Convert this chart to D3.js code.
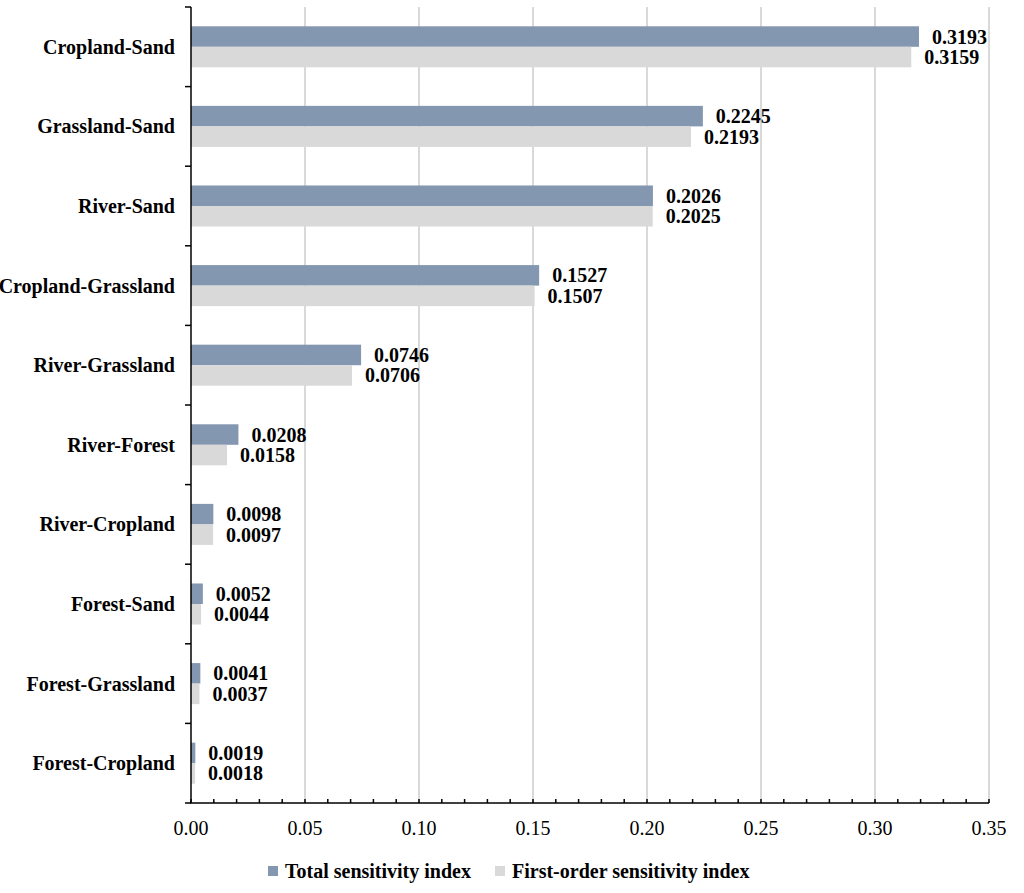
<!DOCTYPE html>
<html>
<head>
<meta charset="utf-8">
<script src="https://cdn.jsdelivr.net/npm/d3@7"></script>
<style>
  body { margin: 0; background: #fff; }
  text { font-family: 'Liberation Serif', 'Times New Roman', serif; font-weight: bold; fill: #000; }
</style>
</head>
<body>
<div id="chart"></div>
<script>
// data (top to bottom)
const categories = ['Cropland-Sand', 'Grassland-Sand', 'River-Sand', 'Cropland-Grassland', 'River-Grassland',
  'River-Forest', 'River-Cropland', 'Forest-Sand', 'Forest-Grassland', 'Forest-Cropland']
const totalIndex = [0.3193, 0.2245, 0.2026, 0.1527, 0.0746, 0.0208, 0.0098, 0.0052, 0.0041, 0.0019]
const firstIndex = [0.3159, 0.2193, 0.2025, 0.1507, 0.0706, 0.0158, 0.0097, 0.0044, 0.0037, 0.0018]
const seriesNames = ['Total sensitivity index', 'First-order sensitivity index']
const xTicks = [0, 0.05, 0.10, 0.15, 0.20, 0.25, 0.30, 0.35]

const width = 1024,
  height = 893,
  plotLeft = 191,
  plotRight = 989,
  plotTop = 7,
  plotBottom = 803,
  fontSize = '20px'

const colors = ['#8497b0', '#d9d9d9']

let svg = d3.select('#chart')
  .append('svg')
  .attr('width', width)
  .attr('height', height)

let x = d3.scaleLinear().domain([0, 0.35]).range([plotLeft, plotRight])
let y = d3.scaleBand().domain(categories).range([plotTop, plotBottom])
let ySub = d3.scaleBand().domain([0, 1]).range([0, y.bandwidth()]).paddingOuter(0.94)

// gridlines
svg.append('g')
  .selectAll('line')
  .data(xTicks.slice(1))
  .enter()
  .append('line')
  .attr('x1', d => x(d)).attr('x2', d => x(d))
  .attr('y1', plotTop).attr('y2', plotBottom)
  .attr('stroke', '#d9d9d9')
  .attr('stroke-width', 2)

// bars
let rows = categories.map((c, i) => ({ cat: c, vals: [totalIndex[i], firstIndex[i]] }))

let group = svg.append('g')
  .selectAll('g')
  .data(rows)
  .enter()
  .append('g')
  .attr('transform', d => `translate(0, ${y(d.cat)})`)

group.selectAll('rect')
  .data(d => d.vals.map((v, k) => ({ v, k })))
  .enter()
  .append('rect')
  .attr('x', x(0))
  .attr('y', d => ySub(d.k))
  .attr('width', d => x(d.v) - x(0))
  .attr('height', ySub.bandwidth())
  .attr('fill', d => colors[d.k])

group.selectAll('text.val')
  .data(d => d.vals.map((v, k) => ({ v, k })))
  .enter()
  .append('text')
  .attr('class', 'val')
  .attr('x', d => x(d.v) + 13)
  .attr('y', d => ySub(d.k) + ySub.bandwidth() / 2)
  .attr('dy', '0.35em')
  .style('font-size', fontSize)
  .text(d => d.v.toFixed(4))

// y axis
let yAxis = svg.append('g')
  .attr('transform', `translate(${plotLeft}, 0)`)
yAxis.append('line')
  .attr('x1', 0).attr('x2', 0)
  .attr('y1', plotTop).attr('y2', plotBottom)
  .attr('stroke', '#000').attr('stroke-width', 1.5)
yAxis.selectAll('line.tick')
  .data(d3.range(categories.length + 1))
  .enter()
  .append('line')
  .attr('class', 'tick')
  .attr('x1', -6).attr('x2', 0)
  .attr('y1', i => plotTop + i * y.step()).attr('y2', i => plotTop + i * y.step())
  .attr('stroke', '#000').attr('stroke-width', 1.5)
yAxis.selectAll('text')
  .data(categories)
  .enter()
  .append('text')
  .attr('x', -16)
  .attr('y', d => y(d) + y.bandwidth() / 2)
  .attr('dy', '0.35em')
  .attr('text-anchor', 'end')
  .style('font-size', fontSize)
  .text(d => d)

// x axis
let xAxis = svg.append('g')
  .attr('transform', `translate(0, ${plotBottom})`)
xAxis.append('line')
  .attr('x1', plotLeft - 1).attr('x2', plotRight)
  .attr('stroke', '#000').attr('stroke-width', 1.5)
xAxis.selectAll('line.minor')
  .data(d3.range(0, 36).map(i => i / 100))
  .enter()
  .append('line')
  .attr('class', 'minor')
  .attr('x1', d => x(d)).attr('x2', d => x(d))
  .attr('y1', -4).attr('y2', 0)
  .attr('stroke', '#000').attr('stroke-width', 1.5)
xAxis.selectAll('text')
  .data(xTicks)
  .enter()
  .append('text')
  .attr('x', d => x(d))
  .attr('y', 32)
  .attr('text-anchor', 'middle')
  .style('font-size', fontSize)
  .style('font-weight', 'normal')
  .text(d => d.toFixed(2))

// legend
let legend = svg.append('g')
  .attr('transform', 'translate(0, 871)')
let legendX = [268, 495]
seriesNames.forEach((name, k) => {
  legend.append('rect')
    .attr('x', legendX[k]).attr('y', -5)
    .attr('width', 10).attr('height', 10)
    .attr('fill', colors[k])
  legend.append('text')
    .attr('x', legendX[k] + 17)
    .attr('y', 0)
    .attr('dy', '0.35em')
    .style('font-size', fontSize)
    .text(name)
})
</script>
</body>
</html>
